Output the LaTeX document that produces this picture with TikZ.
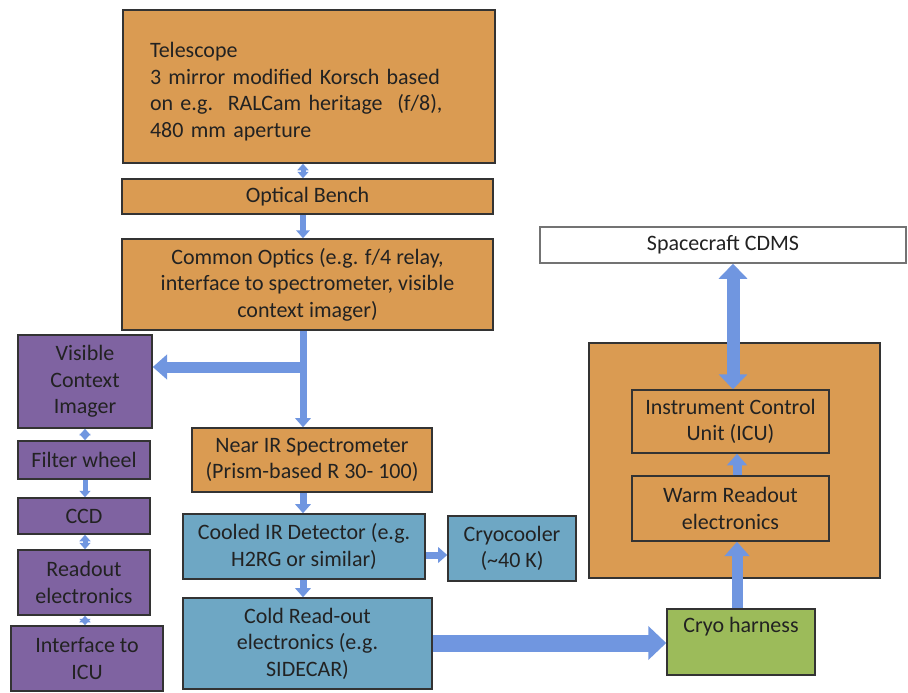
\documentclass[tikz,border=0pt]{standalone}
\usepackage{fontspec}
\setmainfont{Carlito}
\usetikzlibrary{arrows.meta}
\definecolor{orng}{HTML}{DA9B52}
\definecolor{purp}{HTML}{7F63A1}
\definecolor{cblue}{HTML}{6EA7C4}
\definecolor{grn}{HTML}{9CBB5A}
\definecolor{arr}{HTML}{7096E0}
\definecolor{txt}{HTML}{222222}
\tikzset{
  box/.style={draw=black!80, line width=1.5pt, inner sep=2pt, align=center, text=txt,
    font=\fontsize{22}{26.5}\selectfont},
  obox/.style={box, fill=orng},
  pbox/.style={box, fill=purp},
  bbox/.style={box, fill=cblue},
  gbox/.style={box, fill=grn},
  sz/.style 2 args={minimum width=#1pt, minimum height=#2pt},
  barrow/.style={draw=arr, line width=#1pt, -{Triangle[width=2.2*#1pt, length=1.3*#1pt]}},
  dbarrow/.style={draw=arr, line width=#1pt, {Triangle[width=2.2*#1pt, length=1.3*#1pt]}-{Triangle[width=2.2*#1pt, length=1.3*#1pt]}},
}
\begin{document}
\begin{tikzpicture}[x=1pt, y=-1pt]
\useasboundingbox (0,0) rectangle (908,693);
% top chain
\node[obox, sz={372}{153}, text width=318pt, align=left] (tel) at (309,86.5)
  {\rule{0pt}{26pt}Telescope\\3 mirror modified Korsch based\\on e.g.\ \ RALCam heritage \ (f/8),\\480 mm aperture};
\node[obox, sz={371}{35}] (ob) at (307.5,196.5) {Optical Bench};
\node[obox, sz={371}{91}] (co) at (307.5,284.5) {Common Optics (e.g. f/4 relay,\\interface to spectrometer, visible\\context imager)};
% left column
\node[pbox, sz={134}{93}] (vci) at (85,381.5) {Visible\\Context\\Imager};
\node[pbox, sz={132}{38}] (fw) at (84,460) {Filter wheel};
\node[pbox, sz={132}{36}] (ccd) at (84,516) {CCD};
\node[pbox, sz={132}{65}] (ro) at (84,582.5) {Readout\\electronics};
\node[pbox, sz={152}{65}] (ifc) at (87,658.5) {Interface to\\ICU};
% middle column
\node[obox, sz={240}{64}] (nir) at (312,460) {Near IR Spectrometer\\(Prism-based R 30- 100)};
\node[bbox, sz={242}{65}] (cir) at (304,546.5) {Cooled IR Detector (e.g.\\H2RG or similar)};
\node[bbox, sz={128}{65}] (cc) at (512,548.5) {Cryocooler\\(\textasciitilde 40 K)};
\node[bbox, sz={249}{91}] (cro) at (307.5,643.5) {Cold Read-out\\electronics (e.g.\\SIDECAR)};
% right side
\node[box, draw=black!55, fill=white, sz={366}{36}] (cdms) at (723,245) {Spacecraft CDMS};
\node[obox, sz={291}{235}] (outer) at (734.5,460.5) {};
\node[box, fill=orng, sz={197}{63}] (icu) at (730.5,421.5) {Instrument Control\\Unit (ICU)};
\node[box, fill=orng, sz={197}{65}] (wro) at (730.5,508.5) {Warm Readout\\electronics};
\node[gbox, sz={148}{66}] (ch) at (741,642) {Cryo harness\\[8pt]};
% connectors
\coordinate (ax) at (303,0);
\coordinate (lx) at (85,0);
\draw[dbarrow=5] (tel.south -| ax) -- (ob.north -| ax);
\draw[barrow=6] (ob.south -| ax) -- (co.north -| ax);
\draw[barrow=7] (co.south -| ax) -- (nir.north -| ax);
\coordinate (br) at (303,367);
\draw[barrow=11] (br) -- (vci.east |- br);
\draw[barrow=7] (nir.south -| ax) -- (cir.north -| ax);
\draw[barrow=7] (cir.south -| ax) -- (cro.north -| ax);
\coordinate (cy) at (0,555);
\draw[barrow=7] (cir.east |- cy) -- (cc.west |- cy);
\coordinate (hy) at (0,643);
\draw[draw=arr, line width=17pt, -{Triangle[width=33pt, length=18pt]}] (cro.east |- hy) -- (ch.west |- hy);
\coordinate (rx) at (737,0);
\draw[barrow=11] (ch.north -| rx) -- (wro.south -| rx);
\draw[barrow=9] (wro.north -| rx) -- (icu.south -| rx);
\coordinate (ux) at (733,0);
\draw[draw=arr, line width=13pt, {Triangle[width=28pt, length=15pt]}-{Triangle[width=28pt, length=15pt]}] (cdms.south -| ux) -- (icu.north -| ux);
\draw[dbarrow=5] (vci.south -| lx) -- (fw.north -| lx);
\draw[barrow=5] (fw.south -| lx) -- (ccd.north -| lx);
\draw[dbarrow=5] (ccd.south -| lx) -- (ro.north -| lx);
\draw[dbarrow=5] (ro.south -| lx) -- (ifc.north -| lx);
\end{tikzpicture}
\end{document}
